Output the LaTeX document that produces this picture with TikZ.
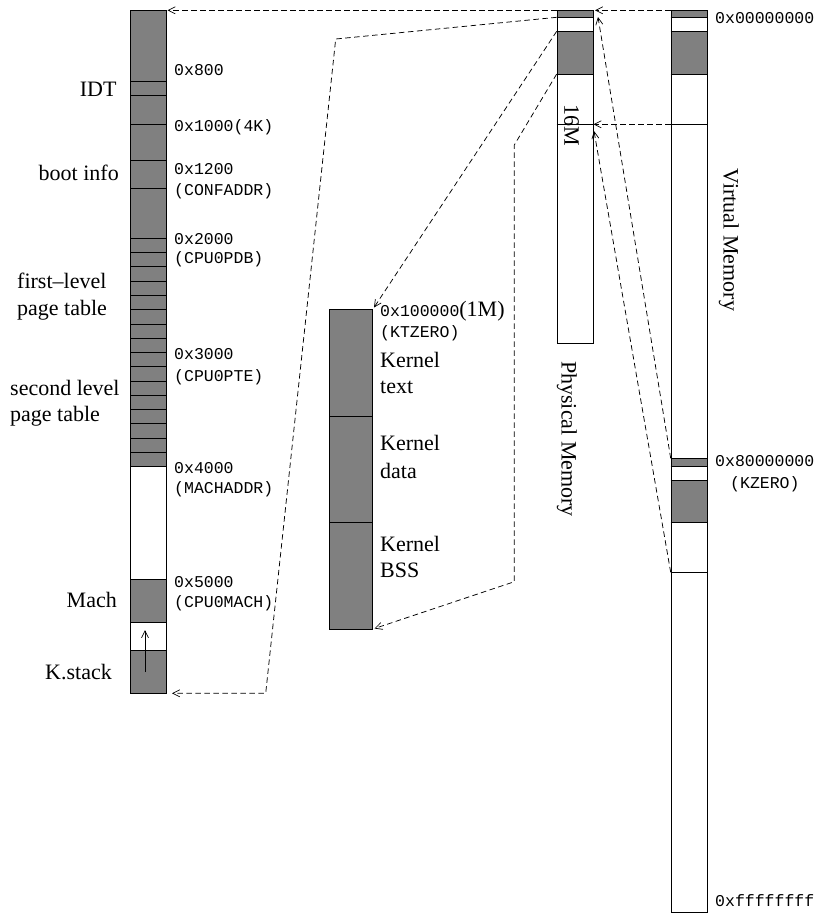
\documentclass[tikz,border=0pt]{standalone}
\usepackage{fontspec}
\setmainfont{Liberation Serif}
\setmonofont{Liberation Mono}
\usetikzlibrary{arrows.meta}
\definecolor{memgray}{RGB}{128,128,128}
\begin{document}
\begin{tikzpicture}[x=1pt,y=-1pt,
  tt/.style={font=\fontsize{16.5}{20}\selectfont\ttfamily, inner sep=0pt, anchor=base west},
  rmr/.style={font=\fontsize{22}{27}\selectfont, inner sep=0pt, anchor=base east},
  rml/.style={font=\fontsize{22}{27}\selectfont, inner sep=0pt, anchor=base west},
  rot/.style={font=\fontsize{22}{27}\selectfont, inner sep=0pt, rotate=-90},
  col/.style={draw=black, line width=0.9pt, inner sep=0pt, anchor=north west},
  sep/.style={line width=0.8pt},
  thk/.style={line width=1.3pt},
  dl/.style={line width=0.75pt, dash pattern=on 5.5pt off 3.5pt},
  tip/.style={-{Straight Barb[length=7pt,width=7pt,line width=0.7pt]}}
]
\path[use as bounding box] (0,0) rectangle (821,914);

% ---------- left column ----------
\fill[memgray] (130,10.3) rectangle (165.7,466.7);
\fill[memgray] (130,579.3) rectangle (165.7,622.3);
\fill[memgray] (130,650.7) rectangle (165.7,693.3);
\foreach \y in {81.3,95.7,124.3,160,188.3,238.3,622.3,650.7}
  \draw[sep] (130,\y) -- (165.7,\y);
\foreach \i in {1,...,15}
  \draw[sep] (130,238.3+\i*14.275) -- ++(35.7,0);
\foreach \y in {352.3,466.7,579.3}
  \draw[thk] (130,\y) -- (165.7,\y);
\node[col, minimum width=35.7pt, minimum height=683pt] (left) at (130,10.3) {};
\coordinate (stackA) at (145,672);
\coordinate (stackB) at (145,630);
\draw[line width=0.7pt, tip] (stackA) -- (stackB);

% left labels
\node[rmr] (idt) at (116.7,96.7) {IDT};
\node[rmr] (boot) at (119,180) {boot info};
\node[rml] (fl1) at (17,288.3) {first–level};
\node[rml] (fl2) at (17,315) {page table};
\node[rml] (sl1) at (10,395) {second level};
\node[rml] (sl2) at (10,421) {page table};
\node[rmr] (mach) at (117,607.3) {Mach};
\node[rmr] (kst) at (112,679) {K.stack};

\node[tt] (a800) at (174,75) {0x800};
\node[tt] (a1000) at (174,131.7) {0x1000(4K)};
\node[tt] (a1200) at (174,174) {0x1200};
\node[tt] (conf) at (174,195) {(CONFADDR)};
\node[tt] (a2000) at (174,244.5) {0x2000};
\node[tt] (pdb) at (174,263) {(CPU0PDB)};
\node[tt] (a3000) at (174,359) {0x3000};
\node[tt] (pte) at (174,381) {(CPU0PTE)};
\node[tt] (a4000) at (174,473) {0x4000};
\node[tt] (machaddr) at (174,493) {(MACHADDR)};
\node[tt] (a5000) at (174,587) {0x5000};
\node[tt] (cpumach) at (174,607) {(CPU0MACH)};

% ---------- middle column (kernel) ----------
\fill[memgray] (329.3,309.3) rectangle (372.3,629.3);
\foreach \y in {416,522.7}
  \draw[sep] (329.3,\y) -- (372.3,\y);
\node[col, minimum width=43pt, minimum height=320pt] (kern) at (329.3,309.3) {};
\node[tt] (ktz) at (380,316.7) {0x100000{\rmfamily\fontsize{22}{27}\selectfont(1M)}};
\node[tt] (ktzero) at (380,337) {(KTZERO)};
\node[rml] (kt1) at (380,367.3) {Kernel};
\node[rml] (kt2) at (380,393.3) {text};
\node[rml] (kd1) at (380,450.7) {Kernel};
\node[rml] (kd2) at (380,478.3) {data};
\node[rml] (kb1) at (380,551.7) {Kernel};
\node[rml] (kb2) at (380,577.7) {BSS};

% ---------- physical memory ----------
\fill[memgray] (556.7,10.3) rectangle (592.7,17.3);
\fill[memgray] (556.7,31.3) rectangle (592.7,74);
\foreach \y in {17.3,31.3,74,124.3}
  \draw[sep] (556.7,\y) -- (592.7,\y);
\node[col, minimum width=36pt, minimum height=333pt] (phys) at (556.7,10.3) {};
\node[rot] (m16) at (571.5,125.5) {16M};
\node[rot] (physlab) at (567,439) {Physical Memory};

% ---------- virtual memory ----------
\fill[memgray] (670.7,10.3) rectangle (706.5,17.3);
\fill[memgray] (670.7,31.3) rectangle (706.5,74);
\fill[memgray] (670.7,458.3) rectangle (706.5,466);
\fill[memgray] (670.7,480) rectangle (706.5,522.7);
\foreach \y in {17.3,31.3,74,124.3,466,480,522.7,572.3}
  \draw[sep] (670.7,\y) -- (706.5,\y);
\draw[thk] (670.7,458.3) -- (706.5,458.3);
\node[col, minimum width=35.8pt, minimum height=902pt] (virt) at (670.7,10.3) {};
\node[rot] (virtlab) at (729,240) {Virtual Memory};
\node[tt] (v0) at (715,23.3) {0x00000000};
\node[tt] (v8) at (715,466) {0x80000000};
\node[tt] (kzero) at (730,488) {(KZERO)};
\node[tt] (vf) at (715,906) {0xffffffff};

% ---------- connector points ----------
\coordinate (pA) at (556.7,10.3);
\coordinate (pB) at (556.7,17.3);
\coordinate (pC) at (556.7,31.3);
\coordinate (pD) at (556.7,74);
\coordinate (pTR) at (595,10.3);
\coordinate (p16) at (593.5,124.3);
\coordinate (pHiA) at (598,17);
\coordinate (pHiB) at (594,131);
\coordinate (vA) at (670.7,10.3);
\coordinate (v16) at (670.7,124.3);
\coordinate (vK1) at (670.7,458.3);
\coordinate (vK2) at (670.7,572.3);
\coordinate (lTop) at (167.5,10.3);
\coordinate (lBot) at (172,693.3);
\coordinate (b1) at (335.7,39);
\coordinate (b2) at (265.7,693.3);
\coordinate (kTop) at (374,307.5);
\coordinate (kBot) at (374.5,628.5);
\coordinate (c1) at (514.3,145);
\coordinate (c2) at (514.3,581.7);

% ---------- connectors ----------
\draw[dl, tip] (pA) -- (lTop);
\draw[dl, tip] (vA) -- (pTR);
\draw[dl, tip] (pB) -- (b1) -- (b2) -- (lBot);
\draw[dl, tip] (pC) -- (kTop);
\draw[dl, tip] (pD) -- (c1) -- (c2) -- (kBot);
\draw[dl, tip] (v16) -- (p16);
\draw[dl, tip] (vK1) -- (pHiA);
\draw[dl, tip] (vK2) -- (pHiB);
\end{tikzpicture}
\end{document}
